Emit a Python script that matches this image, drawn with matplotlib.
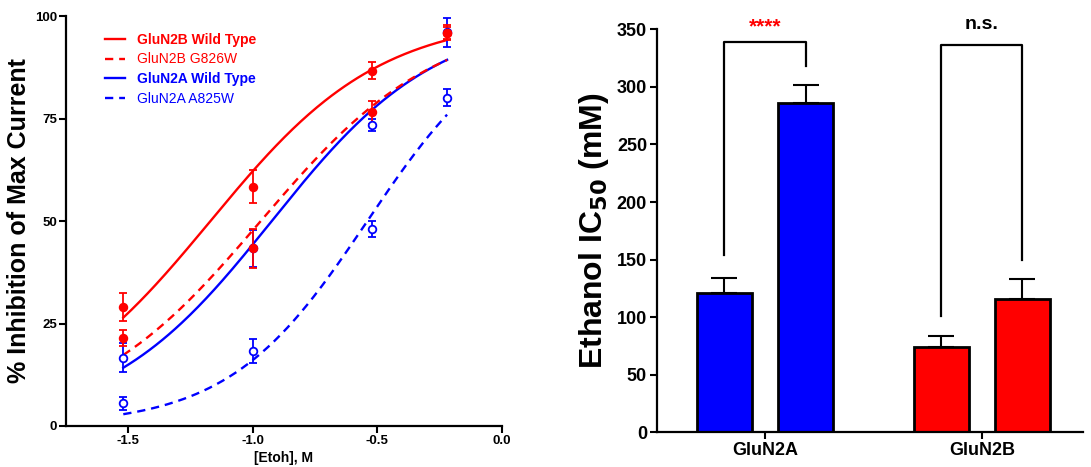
import numpy as np
import matplotlib
matplotlib.use("Agg")
import matplotlib.pyplot as plt

plt.rcParams['font.family'] = ['Liberation Sans', 'DejaVu Sans']
plt.rcParams['font.weight'] = 'bold'

# ---------------- Left panel data ----------------
log_conc = [-1.52, -1.0, -0.52, -0.22]
series_names = ["GluN2B Wild Type", "GluN2B G826W", "GluN2A Wild Type", "GluN2A A825W"]
n2b_wt = [29.0, 58.4, 86.7, 95.9]
n2b_wt_err = [3.4, 4.1, 2.1, 1.8]
n2b_g826w = [21.5, 43.3, 76.5, 95.9]
n2b_g826w_err = [2.0, 4.7, 2.8, 1.5]
n2a_wt = [16.7, 43.3, 73.5, 96.0]
n2a_wt_err = [3.5, 4.5, 1.5, 3.5]
n2a_a825w = [5.5, 18.3, 48.1, 80.1]
n2a_a825w_err = [1.5, 3.0, 2.0, 2.0]
# fitted dose-response parameters (log IC50 in M, Hill slope)
fit_log_ic50 = [-1.17, -0.968, -0.924, -0.54]
fit_hill = [1.27, 1.23, 1.31, 1.56]
left_yticks = [0, 25, 50, 75, 100]
left_xticks = [-1.5, -1.0, -0.5, 0.0]

# ---------------- Right panel data ----------------
groups = ["GluN2A", "GluN2B"]
ic50_wt = [120.7, 74.3]
ic50_wt_err = [13.5, 9.3]
ic50_mut = [285.6, 115.7]
ic50_mut_err = [15.9, 17.1]
sig_labels = ["****", "n.s."]
right_yticks = [0, 50, 100, 150, 200, 250, 300, 350]

RED = "#ff0000"
BLUE = "#0000ff"

fig = plt.figure(figsize=(10.91, 4.67), dpi=100)

# ================= Left =================
axL = fig.add_axes([0.0605, 0.0878, 0.3995, 0.8779])
yvals = [n2b_wt, n2b_g826w, n2a_wt, n2a_a825w]
yerrs = [n2b_wt_err, n2b_g826w_err, n2a_wt_err, n2a_a825w_err]
colors = [RED, RED, BLUE, BLUE]
styles = ['-', (0, (3.5, 2.5)), '-', (0, (3.5, 2.5))]
filled = [True, True, False, False]

xs = np.linspace(min(log_conc), max(log_conc), 200)
handles = []
order = [2, 3, 0, 1]
for i in order:
    c = colors[i]
    curve = 100.0 / (1 + 10 ** ((fit_log_ic50[i] - xs) * fit_hill[i]))
    ln, = axL.plot(xs, curve, color=c, ls=styles[i], lw=1.7, zorder=2)
    handles.append((i, ln))
    axL.errorbar(log_conc, yvals[i], yerr=yerrs[i], fmt='o', color=c,
                 mfc=c if filled[i] else 'white', mec=c, ms=5.5, mew=1.3,
                 elinewidth=1.3, capsize=3, capthick=1.3, zorder=3)

handles = [h for _, h in sorted(handles, key=lambda t: t[0])]
leg = axL.legend(handles, series_names, loc='upper left', bbox_to_anchor=(0.06, 0.99),
                 frameon=False, fontsize=10, handlelength=1.5, handletextpad=0.8,
                 labelspacing=0.42, labelcolor='linecolor')
for j, t in enumerate(leg.get_texts()):
    t.set_fontweight('bold' if 'Wild' in series_names[j] else 'normal')

axL.set_xlim(-1.75, 0.0)
axL.set_ylim(0, 100)
axL.set_xticks(left_xticks)
axL.set_xticklabels([f"{v:.1f}" for v in left_xticks])
axL.set_yticks(left_yticks)
axL.tick_params(axis='both', direction='out', length=5, width=1.5, labelsize=9.5, pad=1.5)
for lab in axL.get_xticklabels() + axL.get_yticklabels():
    lab.set_fontweight('bold')
for s in ['top', 'right']:
    axL.spines[s].set_visible(False)
for s in ['left', 'bottom']:
    axL.spines[s].set_linewidth(1.6)
axL.set_xlabel("[Etoh], M", fontsize=10, fontweight='bold', labelpad=3)
axL.set_ylabel("% Inhibition of Max Current", fontsize=18, fontweight='bold', labelpad=3)

# ================= Right =================
axR = fig.add_axes([0.602, 0.0743, 0.3904, 0.8629])
gx = np.arange(len(groups))
off = 0.1875
bw = 0.254
bar_colors = [BLUE, RED]
for k in range(len(groups)):
    for dx, vals, errs in [(-off, ic50_wt, ic50_wt_err), (off, ic50_mut, ic50_mut_err)]:
        axR.bar(gx[k] + dx, vals[k], width=bw, color=bar_colors[k], edgecolor='black',
                linewidth=2.0, zorder=2)
        axR.errorbar(gx[k] + dx, vals[k], yerr=[[0], [errs[k]]], fmt='none',
                     ecolor='black', elinewidth=1.5, capsize=9.5, capthick=1.5, zorder=1)

brk_top = [339, 336]
brk_left_bottom = [154, 101]
brk_right_bottom = [318, 150]
sig_colors = [RED, 'black']
for k in range(len(groups)):
    xl, xr = gx[k] - off, gx[k] + off
    axR.plot([xl, xl, xr, xr], [brk_left_bottom[k], brk_top[k], brk_top[k], brk_right_bottom[k]],
             color='black', lw=1.6, clip_on=False, zorder=3)
    axR.text(gx[k], 352 if k == 0 else 354, sig_labels[k], ha='center', va='center',
             color=sig_colors[k], fontsize=15 if k == 0 else 14, fontweight='bold',
             clip_on=False)

axR.set_xlim(-0.5, 1.466)
axR.set_ylim(0, 350)
axR.set_yticks(right_yticks)
axR.set_xticks(gx)
axR.set_xticklabels(groups)
axR.tick_params(axis='both', direction='out', length=5, width=1.5, labelsize=13, pad=2)
for lab in axR.get_xticklabels() + axR.get_yticklabels():
    lab.set_fontweight('bold')
for s in ['top', 'right']:
    axR.spines[s].set_visible(False)
for s in ['left', 'bottom']:
    axR.spines[s].set_linewidth(1.6)
axR.set_ylabel("Ethanol IC$_{\\mathbf{50}}$ (mM)", fontsize=23, fontweight='bold', labelpad=4)

fig.savefig("out.png", dpi=100)
